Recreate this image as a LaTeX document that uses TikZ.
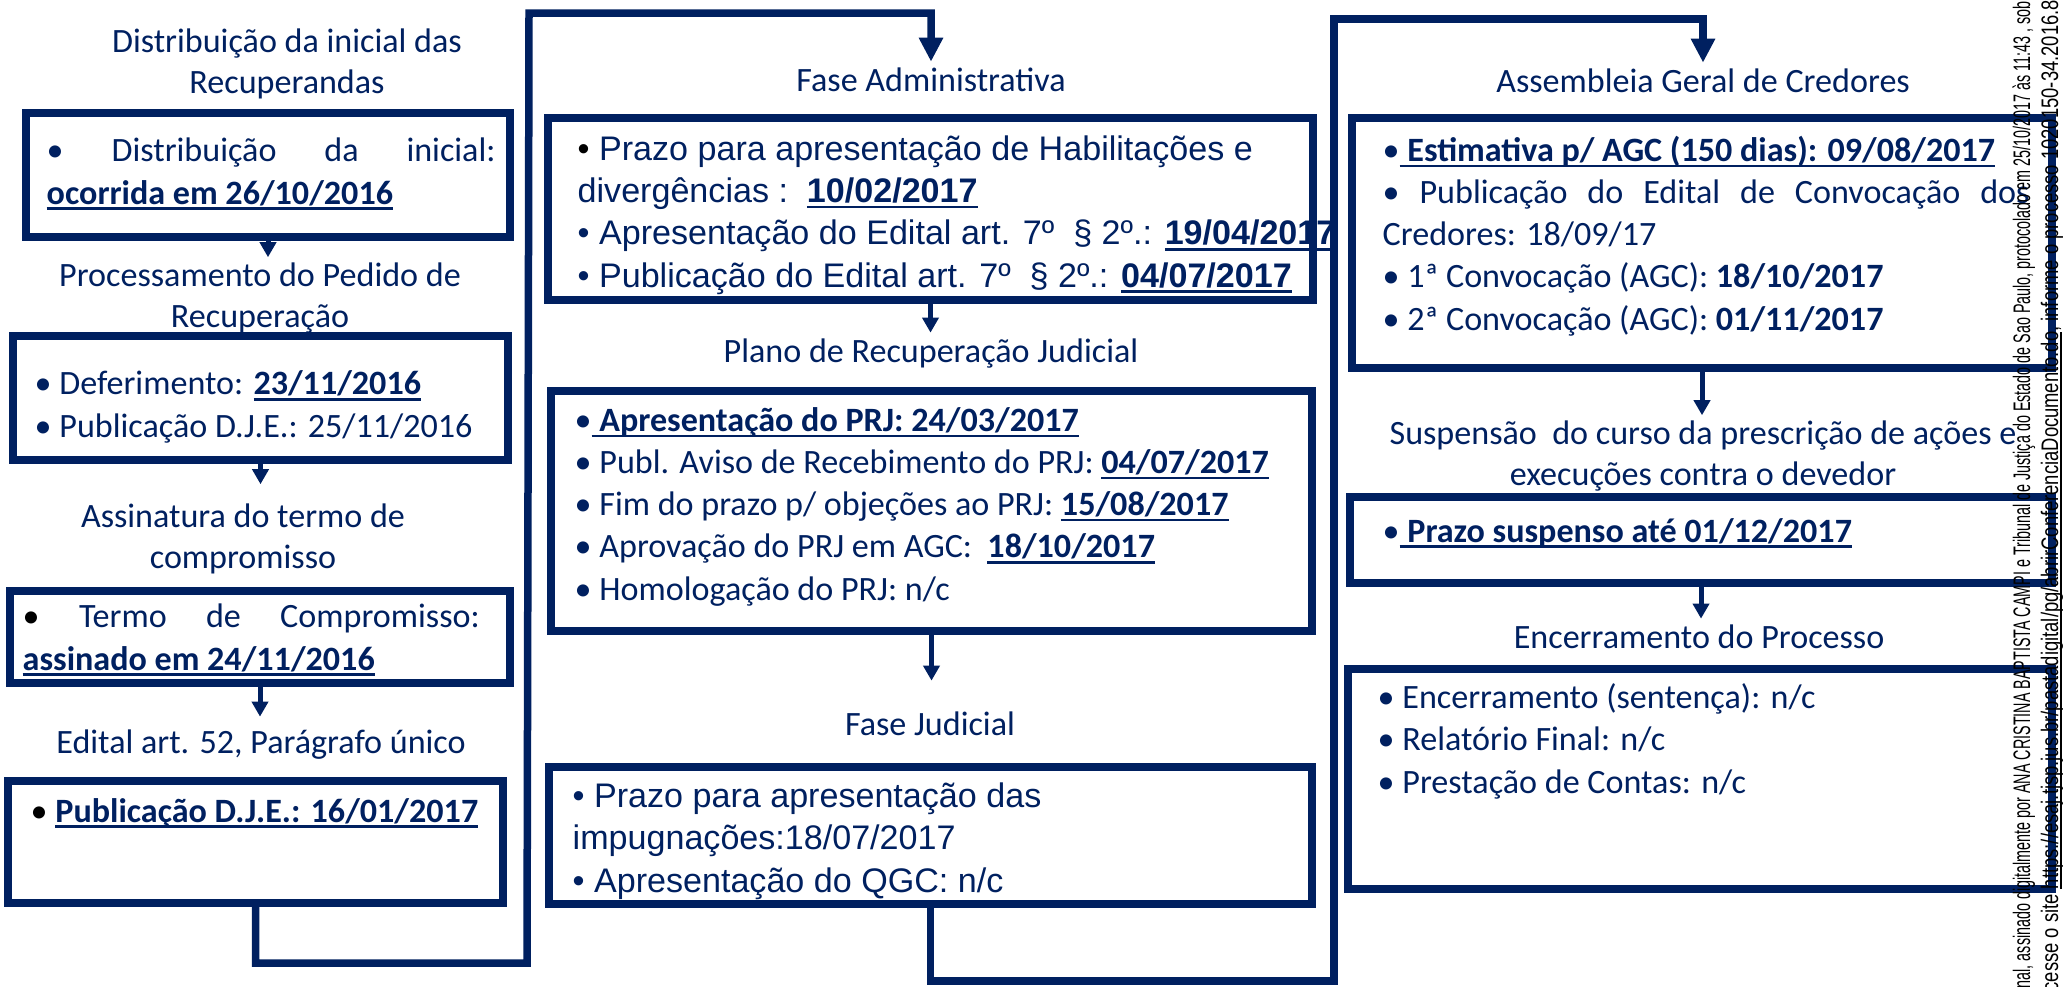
\documentclass[tikz,border=0pt]{standalone}
\usepackage{fontspec}
\setmainfont{Carlito}
\newfontfamily\arial{Liberation Sans}
\usetikzlibrary{arrows.meta,positioning,calc}
\definecolor{rjnavy}{HTML}{002060}
\newsavebox\caixasub
\newcommand{\sublinha}[1]{\sbox\caixasub{#1}\rlap{\rule[-0.17em]{\wd\caixasub}{0.7pt}}\usebox\caixasub}
\newcommand{\data}[1]{\sublinha{\textbf{#1}}}
\newcommand{\pb}{{\color{black}•}}

\begin{document}
\begin{tikzpicture}[x=0.1mm, y=-0.1mm,
  font=\fontsize{9.7pt}{12pt}\selectfont, text=rjnavy,
  etapa/.style={draw=rjnavy, line width=0.8mm, inner sep=0pt},
  titulo/.style={align=center, anchor=base, inner sep=0.5mm,
    font=\fontsize{9.7pt}{11.5pt}\selectfont},
  itens/.style={align=left, anchor=base west, inner sep=0pt},
  arialtxt/.style={font=\arial\fontsize{9.7pt}{12pt}\selectfont},
  seta/.style={rjnavy, line width=0.5mm, -{Triangle[width=1.6mm,length=1.5mm]}},
  laco/.style={rjnavy, line width=0.75mm, -{Triangle[width=2.3mm,length=2.4mm]}},
  marca/.style={rotate=90, anchor=base west, inner sep=0pt, text=black,
    font=\arial\fontsize{6.8pt}{8pt}\selectfont}
]
\useasboundingbox (0,0) rectangle (2063,986);

% coluna esquerda (base = ultima linha)
\node[titulo] (t-dist) at (287,93) {Distribuição da inicial das\\Recuperandas};
\node[etapa, minimum width=48.4mm, minimum height=12.4mm] (dist) at (268,175) {};
\node[itens] (i-dist) at (46,204) {\makebox[44.9mm][s]{• Distribuição da inicial:}\\\data{ocorrida em 26/10/2016}};

\node[titulo] (t-proc) at (260,327) {Processamento do Pedido de\\Recuperação};
\node[etapa, minimum width=49.5mm, minimum height=12.4mm] (proc) at (260.5,398) {};
\node[itens] (i-proc) at (34,437) {• Deferimento: \data{23/11/2016}\\• Publicação D.J.E.: 25/11/2016};

\node[titulo] (t-ass) at (243,568) {Assinatura do termo de\\compromisso};
\node[etapa, minimum width=50mm, minimum height=9.2mm] (ass) at (260,637) {};
\node[itens] (i-ass) at (22,670) {\makebox[45.7mm][s]{\pb{} Termo de Compromisso:}\\\data{assinado em 24/11/2016}};

\node[titulo] (t-edital) at (261,753) {Edital art. 52, Parágrafo único};
\node[etapa, minimum width=49.5mm, minimum height=12.2mm] (edital) at (255.5,842) {};
\node[itens] (i-edital) at (30,822) {\pb{} \data{Publicação D.J.E.: 16/01/2017}};

% coluna central
\node[titulo] (t-adm) at (931,91) {Fase Administrativa};
\node[etapa, minimum width=76.5mm, minimum height=18.2mm] (adm) at (930.5,209) {};
\node[itens, arialtxt] (i-adm) at (577,287) {\pb{} Prazo para apresentação de Habilitações e\\divergências :\ \ \data{10/02/2017}\\• Apresentação do Edital art. 7º\ \ § 2º.: \data{19/04/2017}\\• Publicação do Edital art. 7º\ \ § 2º.: \data{04/07/2017}};

\node[titulo] (t-plano) at (931,362) {Plano de Recuperação Judicial};
\node[etapa, minimum width=76.1mm, minimum height=24mm] (prj) at (931.5,511) {};
\node[itens] (i-prj) at (574,600) {•\data{ Apresentação do PRJ: 24/03/2017}\\• Publ. Aviso de Recebimento do PRJ: \data{04/07/2017}\\• Fim do prazo p/ objeções ao PRJ: \data{15/08/2017}\\• Aprovação do PRJ em AGC:\ \ \data{18/10/2017}\\• Homologação do PRJ: n/c};

\node[titulo] (t-jud) at (930,735) {Fase Judicial};
\node[etapa, minimum width=76.3mm, minimum height=13.7mm] (jud) at (930.5,835.5) {};
\node[itens, arialtxt] (i-jud) at (572,892) {• Prazo para apresentação das\\impugnações:18/07/2017\\• Apresentação do QGC: n/c};

% coluna direita
\node[titulo] (t-agc) at (1703,92) {Assembleia Geral de Credores};
\node[etapa, minimum width=70mm, minimum height=25mm] (agc) at (1702,243) {};
\node[itens] (i-agc) at (1382,330) {•\data{ Estimativa p/ AGC (150 dias): 09/08/2017}\\\makebox[64.7mm][s]{• Publicação do Edital de Convocação dos}\\Credores: 18/09/17\\• 1ª Convocação (AGC): \textbf{18/10/2017}\\• 2ª Convocação (AGC): \textbf{01/11/2017}};

\node[titulo] (t-susp) at (1703,485) {Suspensão\ \ do curso da prescrição de ações e\\execuções contra o devedor};
\node[etapa, minimum width=70.2mm, minimum height=8.6mm] (susp) at (1701,540) {};
\node[itens] (i-susp) at (1382,542) {•\data{ Prazo suspenso até 01/12/2017}};

\node[titulo] (t-enc) at (1699,648) {Encerramento do Processo};
\node[etapa, minimum width=70.4mm, minimum height=22mm] (enc) at (1700,779) {};
\node[itens] (i-enc) at (1377,793) {• Encerramento (sentença): n/c\\• Relatório Final: n/c\\• Prestação de Contas: n/c};

% setas
\draw[seta] (dist.south) -- (dist.south |- t-proc.north);
\draw[seta, shorten >=1.4mm] (proc.south) -- (proc.south |- t-ass.north);
\draw[seta, shorten >=0.7mm] (ass.south) -- (ass.south |- t-edital.north);
\draw[seta] (adm.south) -- (adm.south |- t-plano.north);
\draw[seta, shorten >=2.5mm] (prj.south) -- (prj.south |- t-jud.north);
\draw[seta] (agc.south) -- (agc.south |- t-susp.north);
\draw[seta] (susp.south) -- (susp.south |- t-enc.north);

% lacos entre colunas
\coordinate (volta-a) at (527,963);
\coordinate (topo-a) at (529,13);
\draw[laco] (edital.south) |- (volta-a) -- (topo-a) -| (t-adm.north);
\coordinate (volta-b) at (1334,981);
\coordinate (topo-b) at (1334,19);
\draw[laco] (jud.south) |- (volta-b) -- (topo-b) -| (t-agc.north);

% marca lateral
\node[marca] (marca-a) at (2030,992) {\scalebox{0.6}[1]{inal, assinado digitalmente por ANA CRISTINA BAPTISTA CAMPI e Tribunal de Justiça do Estado de Sao Paulo, protocolado em 25/10/2017 às 11:43 , sob}};
\node[marca] (marca-b) at (2058,992) {\scalebox{0.77}[1]{cesse o site \sublinha{https://esaj.tjsp.jus.br/pastadigital/pg/abrirConferenciaDocumento.do}, informe o processo 1020150-34.2016.8.}};
\end{tikzpicture}
\end{document}
